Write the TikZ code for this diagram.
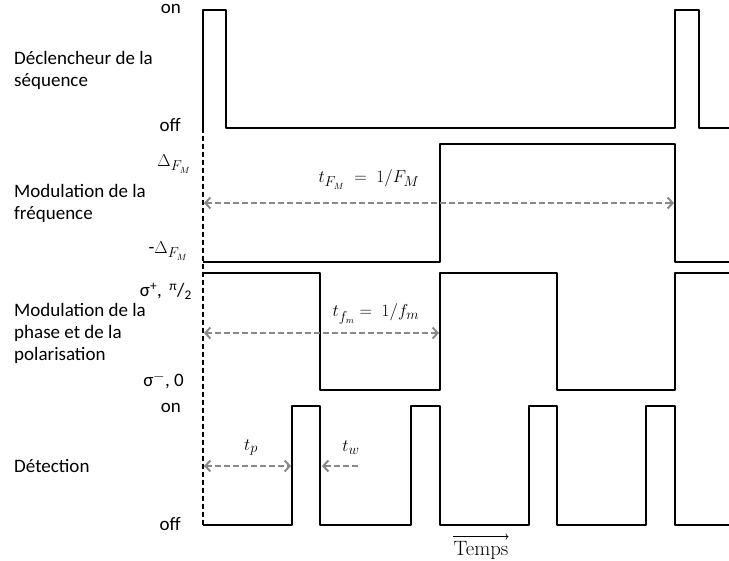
\documentclass[tikz,border=0pt]{standalone}
\usepackage[no-math]{fontspec}
\setmainfont{Carlito}
\usetikzlibrary{arrows.meta}
\definecolor{dimgray}{RGB}{137,137,137}
\begin{document}
\begin{tikzpicture}[x=1pt,y=-1pt,
  wave/.style={line width=2.8pt, line join=round},
  guide/.style={line width=1.8pt, dash pattern=on 5pt off 3pt},
  dimline/.style={draw=dimgray, line width=2pt, dash pattern=on 6pt off 3pt},
  tip/.tip={Straight Barb[length=5pt,width=11pt,line width=2pt]},
  txt/.style={font=\fontsize{19}{23}\selectfont, inner sep=0pt},
  lbl/.style={txt, anchor=base west},
  lvl/.style={txt, anchor=base east}]
\useasboundingbox (0,0) rectangle (729,561);

% left labels
\node[lbl] (l1a) at (14,65) {Déclencheur de la};
\node[lbl] (l1b) at (14,87) {séquence};
\node[lbl] (l2a) at (14,198) {Modulation de la};
\node[lbl] (l2b) at (14,220) {fréquence};
\node[lbl] (l3a) at (14,317) {Modulation de la};
\node[lbl] (l3b) at (14,339) {phase et de la};
\node[lbl] (l3c) at (14,361) {polarisation};
\node[lbl] (l4a) at (14,472) {Détection};

% level labels
\node[lvl] (on1) at (181,14) {on};
\node[lvl] (off1) at (181,132) {off};
\node[lvl] (dp) at (191,167) {$\Delta_{F_M}$};
\node[lvl] (dm) at (188,254) {-$\Delta_{F_M}$};
\node[lvl] (sp) at (192,297) {σ\textsuperscript{+},\, \textsuperscript{π}/\textsubscript{2}};
\node[lvl] (sm) at (184,387) {σ\textsuperscript{$-$}, 0};
\node[lvl] (on2) at (181,413) {on};
\node[lvl] (off2) at (181,530) {off};

% guide line
\coordinate (g0) at (203,128);
\coordinate (g1) at (203,525);
\draw[guide] (g0) -- (g1);

% waveforms
\draw[wave] (203,128)--(203,10)--(226,10)--(226,128)--(675,128)--(675,10)--(699,10)--(699,128)--(732,128);
\draw[wave] (203,262)--(440,262)--(440,144)--(675,144)--(675,262)--(732,262);
\draw[wave] (203,273)--(320,273)--(320,390)--(440,390)--(440,273)--(557,273)--(557,390)--(675,390)--(675,273)--(732,273);
\draw[wave] (203,525)--(292,525)--(292,406)--(320,406)--(320,525)--(411,525)--(411,406)--(440,406)--(440,525)--(529,525)--(529,406)--(557,406)--(557,525)--(646,525)--(646,406)--(675,406)--(675,525)--(732,525);

% dimension arrows
\coordinate (a1) at (204,203); \coordinate (b1) at (674,203);
\coordinate (a2) at (204,333); \coordinate (b2) at (439,333);
\coordinate (a3) at (204,466); \coordinate (b3) at (291,466);
\coordinate (a4) at (358,466); \coordinate (b4) at (322,466);
\draw[dimline, tip-tip] (a1) -- (b1);
\draw[dimline, tip-tip] (a2) -- (b2);
\draw[dimline, tip-tip] (a3) -- (b3);
\draw[dimline, -tip] (a4) -- (b4);

\node[txt, anchor=base] (tfm) at (369,183) {$t_{F_M}\;=\;1/F_M$};
\node[txt, anchor=base] (tfmm) at (376,317) {$t_{f_m} =\; 1/f_m$};
\node[txt, anchor=base] (tp) at (251,450) {$t_p$};
\node[txt, anchor=base] (tw) at (351,452) {$t_w$};

\node[inner sep=0pt, font=\fontsize{21}{25}\selectfont, anchor=base] (temps) at (481,555) {$\mathrm{Temps}$};
\coordinate (ta) at ([yshift=4pt]temps.north west);
\coordinate (tb) at ([yshift=4pt]temps.north east);
\draw[line width=0.6pt, -{To[length=3pt]}] (ta) -- (tb);
\end{tikzpicture}
\end{document}
